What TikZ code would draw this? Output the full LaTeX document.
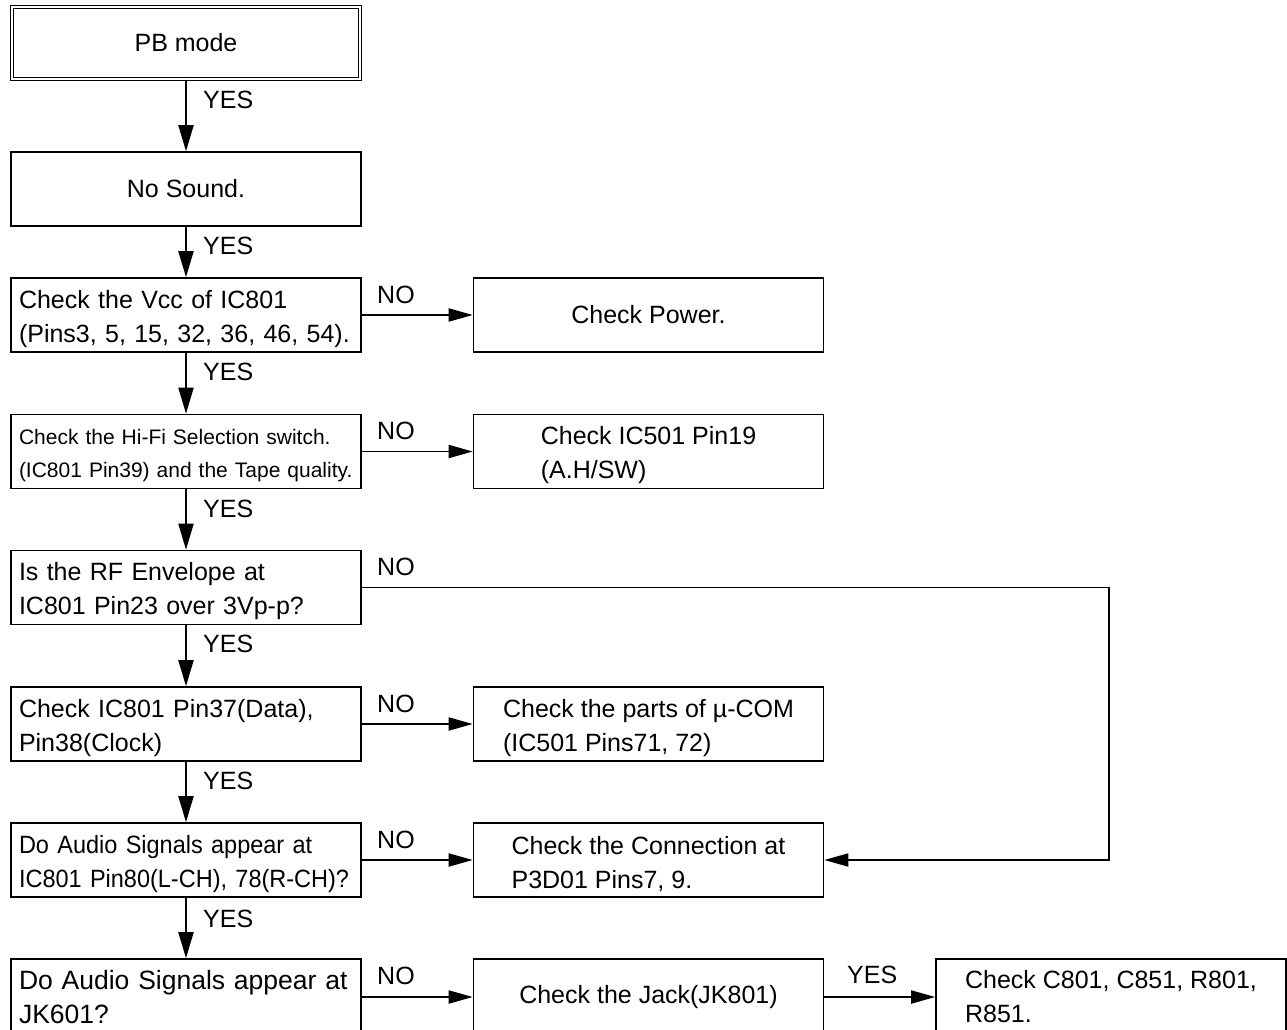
\documentclass[tikz,border=0pt]{standalone}
\usepackage{fontspec}
\setmainfont{Liberation Sans}
\newfontfamily\narrowfont[FakeStretch=0.94]{Liberation Sans}
\usetikzlibrary{arrows.meta}
\newcommand{\mystrut}{\rule{0pt}{26pt}}
\newcommand{\smallstrut}{\rule{0pt}{23pt}}
\tikzset{
  box/.style={draw, line width=1.6pt, minimum width=350pt, minimum height=74pt,
    inner sep=0pt, font=\fontsize{25}{34}\selectfont},
  lbox/.style={box, text width=334pt, align=left},
  rbox/.style={box, align=left},
  lab/.style={font=\fontsize{25}{30}\selectfont, inner sep=0pt, anchor=base west},
  flow/.style={line width=1.9pt, -{Triangle[length=26pt,width=15pt]}},
  hflow/.style={line width=1.9pt, line join=miter, -{Triangle[length=24pt,width=13pt]}},
}
\begin{document}
\begin{tikzpicture}[x=1pt,y=-1pt]
\useasboundingbox (0,0) rectangle (1287,1029);
\clip (0,0) rectangle (1287,1029);
% left column
\node[box, double, line width=1pt, double distance=2.2pt, minimum width=347.5pt, minimum height=72pt] (pb) at (186,43) {PB mode};
\node[box] (ns) at (186,189) {No Sound.};
\node[lbox] (vcc) at (186,315) {\mystrut Check the Vcc of IC801\\(Pins3, 5, 15, 32, 36, 46, 54).};
\node[lbox, font=\fontsize{21}{33}\selectfont] (hifi) at (186,451.5) {\smallstrut Check the Hi-Fi Selection switch.\\(IC801 Pin39) and the Tape quality.};
\node[lbox] (rf) at (186,587.5) {\mystrut Is the RF Envelope at\\IC801 Pin23 over 3Vp-p?};
\node[lbox] (p37) at (186,724) {\mystrut Check IC801 Pin37(Data),\\Pin38(Clock)};
\node[lbox, font=\narrowfont\fontsize{25}{34}\selectfont] (au1) at (186,860) {\mystrut Do Audio Signals appear at\\IC801 Pin80(L-CH), 78(R-CH)?};
\node[lbox, minimum height=76pt, font=\fontsize{26.5}{34}\selectfont] (au2) at (186,997) {\mbox{Do Audio Signals appear at}\\JK601?};
% right column
\node[rbox] (pow) at (648.5,315) {Check Power.};
\node[rbox] (ic501) at (648.5,451.5) {\mystrut Check IC501 Pin19\\(A.H/SW)};
\node[rbox] (ucom) at (648.5,724) {\mystrut Check the parts of µ-COM\\(IC501 Pins71, 72)};
\node[rbox] (conn) at (648.5,860) {\mystrut Check the Connection at\\P3D01 Pins7, 9.};
\node[rbox, minimum height=76pt] (jack) at (648.5,997) {Check the Jack(JK801)};
\node[rbox, minimum height=76pt] (c801) at (1111,997) {Check C801, C851, R801,\\R851.};
% vertical flow
\draw[flow] (pb) -- (ns);
\draw[flow] (ns) -- (vcc);
\draw[flow] (vcc) -- (hifi);
\draw[flow] (hifi) -- (rf);
\draw[flow] (rf) -- (p37);
\draw[flow] (p37) -- (au1);
\draw[flow] (au1) -- (au2);
% horizontal flow
\draw[hflow] (vcc) -- (pow);
\draw[hflow] (hifi) -- (ic501);
\draw[hflow] (p37) -- (ucom);
\draw[hflow] (au1) -- (conn);
\draw[hflow] (au2) -- (jack);
\draw[hflow] (jack) -- (c801);
\coordinate (k1) at (1109,587.5);
\coordinate (k2) at (1109,860);
\draw[hflow] (rf) -- (k1) -- (k2) -- (conn);
% labels
\node[lab] (y1) at (203,108) {YES};
\node[lab] (y2) at (203,254) {YES};
\node[lab] (y3) at (203,380) {YES};
\node[lab] (y4) at (203,517) {YES};
\node[lab] (y5) at (203,652) {YES};
\node[lab] (y6) at (203,789) {YES};
\node[lab] (y7) at (203,927) {YES};
\node[lab] (y8) at (847,983) {YES};
\node[lab] (n1) at (377,303) {NO};
\node[lab] (n2) at (377,439) {NO};
\node[lab] (n3) at (377,575) {NO};
\node[lab] (n4) at (377,712) {NO};
\node[lab] (n5) at (377,848) {NO};
\node[lab] (n6) at (377,984) {NO};
\end{tikzpicture}
\end{document}
